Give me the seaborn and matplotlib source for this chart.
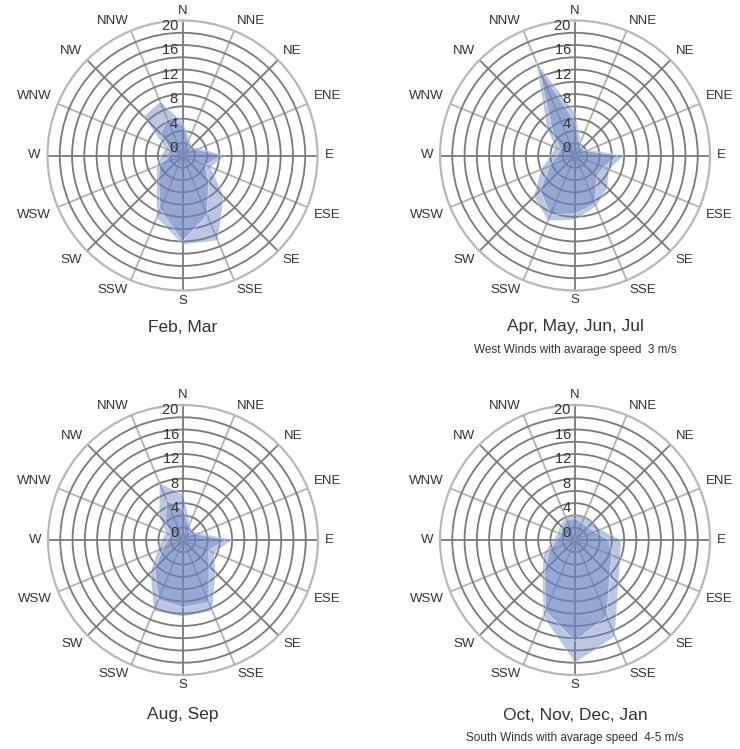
import numpy as np
import matplotlib
matplotlib.use("Agg")
import matplotlib.pyplot as plt
import seaborn as sns

# 16 compass directions, clockwise from north
directions = ['N', 'NNE', 'NE', 'ENE', 'E', 'ESE', 'SE', 'SSE',
              'S', 'SSW', 'SW', 'WSW', 'W', 'WNW', 'NW', 'NNW']
ring_labels = [0, 4, 8, 12, 16, 20]

# frequencies (%) - outer (lighter) and inner (darker) layers
feb_mar_outer = [5.5, 3, 2, 3, 7, 5, 9.5, 15, 14.5, 11, 6, 4.5, 3.5, 3, 9, 9.5]
feb_mar_inner = [5, 2.5, 1.5, 2.5, 6.5, 4, 6, 10.5, 14, 9.5, 5.5, 4, 2, 2, 5, 6.5]

apr_jul_outer = [7, 2.5, 1.5, 2.5, 8, 6, 7.5, 9, 10.5, 11.5, 9.5, 6, 4, 3.5, 6.5, 16.5]
apr_jul_inner = [5.5, 2, 1.5, 2, 7, 5, 5, 8.5, 9.5, 10.5, 8, 4.5, 3, 2.5, 5, 15.5]

aug_sep_outer = [7.5, 3, 2, 3, 8, 5.5, 7.5, 12.5, 12.5, 12.5, 7.5, 4.5, 3.5, 3, 5.5, 10]
aug_sep_inner = [5, 2.5, 1.5, 2.5, 7, 4.5, 6, 11, 11, 10.5, 6.5, 3.5, 2.5, 2, 4, 7]

oct_jan_outer = [4, 4, 4, 4.5, 7.5, 8, 10, 17, 20, 13.5, 7.5, 5.5, 3.5, 3, 3.5, 4]
oct_jan_inner = [3.5, 3, 3, 3.5, 5.5, 6.5, 8, 13.5, 16.5, 12.5, 7, 4.5, 3, 2.5, 3, 3.5]

titles = ["Feb, Mar", "Apr, May, Jun, Jul", "Aug, Sep", "Oct, Nov, Dec, Jan"]
subtitles = ["", "West Winds with avarage speed  3 m/s",
             "", "South Winds with avarage speed  4-5 m/s"]

sns.set_theme(style="white")
plt.rcParams['font.family'] = ['Liberation Sans', 'DejaVu Sans']

W, H = 740, 749
R = 135
fill_color = sns.light_palette('#6a83c0', 3)[-1]

fig = plt.figure(figsize=(W / 100, H / 100), dpi=100)

theta = np.deg2rad(np.arange(len(directions)) * 22.5)
theta_closed = np.append(theta, theta[0])

panels = [
    (182.5, 155.5, feb_mar_outer, feb_mar_inner),
    (575, 155.5, apr_jul_outer, apr_jul_inner),
    (183, 540, aug_sep_outer, aug_sep_inner),
    (575, 540, oct_jan_outer, oct_jan_inner),
]
title_y = [327, 327, 715, 715]

for i, (cx, cy, outer, inner) in enumerate(panels):
    ax = fig.add_axes([(cx - R) / W, 1 - (cy + R) / H, 2 * R / W, 2 * R / H],
                      projection='polar')
    ax.set_theta_zero_location('N')
    ax.set_theta_direction(-1)

    for vals in (outer, inner):
        v = np.append(vals, vals[0])
        ax.fill(theta_closed, v, color=fill_color, alpha=0.45, lw=0.6,
                edgecolor=(1, 1, 1, 0.5), zorder=2)

    ax.set_ylim(0, 22)
    ax.set_yticks(np.arange(2, 21, 2))
    ax.set_yticklabels([])
    ax.set_xticks(theta)
    ax.set_xticklabels([])
    ax.grid(True)
    for gl in ax.yaxis.get_gridlines():
        gl.set_color('#7a7a7a')
        gl.set_linewidth(1.3)
    for k, gl in enumerate(ax.xaxis.get_gridlines()):
        gl.set_color('#7a7a7a' if k % 2 == 0 else '#b3b3b3')
        gl.set_linewidth(1.3)
    ax.spines['polar'].set_color('#b8b8b8')
    ax.spines['polar'].set_linewidth(1.6)

    # compass labels just outside the rim
    for t, name in zip(theta, directions):
        s, c = np.sin(t), np.cos(t)
        ha = 'left' if s > 0.1 else ('right' if s < -0.1 else 'center')
        va = 'bottom' if c > 0.1 else ('top' if c < -0.1 else 'center')
        ax.annotate(name, xy=(t, 22), xytext=(7 * s, 4 * c),
                    textcoords='offset pixels', ha=ha, va=va,
                    fontsize=9.5, color='#333333', annotation_clip=False)

    for r in ring_labels:
        ax.text(0, r, str(r) + ' ', ha='right', va='bottom', fontsize=10.5,
                color='#333333', zorder=5)

    fig.text(cx / W, 1 - title_y[i] / H, titles[i], ha='center', va='center',
             fontsize=12.5, color='#333333')
    if subtitles[i]:
        fig.text(cx / W, 1 - (title_y[i] + 23) / H, subtitles[i],
                 ha='center', va='center', fontsize=8.5, color='#333333')

fig.savefig('out.png', dpi=100, facecolor='white')
